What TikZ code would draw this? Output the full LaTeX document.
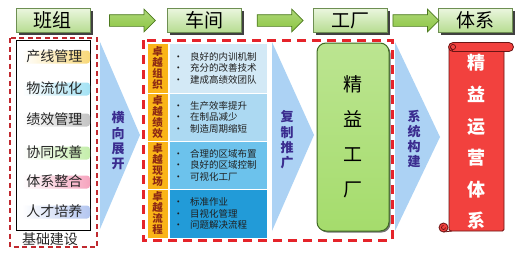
\documentclass[tikz,border=0pt]{standalone}
\usepackage{fontspec}
\setmainfont{Noto Sans CJK SC}
\usetikzlibrary{shapes.arrows,shadows,calc}
\definecolor{hdrtop}{HTML}{EAF6DE}
\definecolor{hdrbot}{HTML}{B6DC90}
\definecolor{hdrline}{HTML}{6E8F52}
\definecolor{arrgreen}{HTML}{8CC641}
\definecolor{arrline}{HTML}{4D7A1F}
\definecolor{triblue}{HTML}{ACD2F4}
\definecolor{orangec}{HTML}{FAB418}
\definecolor{rowa}{HTML}{D3E9F6}
\definecolor{rowb}{HTML}{ACD9F2}
\definecolor{rowc}{HTML}{6CC2EC}
\definecolor{rowd}{HTML}{229BD8}
\definecolor{dashdark}{HTML}{C0292F}
\definecolor{dashbright}{HTML}{E5232A}
\definecolor{purpletext}{HTML}{3A2C8F}
\definecolor{scrollred}{HTML}{F2413E}
\definecolor{scrolldark}{HTML}{6B1414}
\definecolor{facgreen}{HTML}{A5DC6C}
\definecolor{facline}{HTML}{3F6A23}
\definecolor{orangetext}{HTML}{8C2814}
\definecolor{bandA}{HTML}{F8D878}
\definecolor{bandB}{HTML}{A4E2F4}
\definecolor{bandC}{HTML}{C4C4C4}
\definecolor{bandD}{HTML}{C4EEAA}
\definecolor{bandE}{HTML}{F6A4BE}
\definecolor{bandF}{HTML}{B4C6F0}
\begin{document}
\begin{tikzpicture}[x=1pt,y=-1pt,
  hdr/.style={draw=hdrline, line width=0.6pt, top color=hdrtop, bottom color=hdrbot,
    minimum width=74pt, minimum height=24pt, inner sep=0pt,
    font=\fontsize{19}{19}\selectfont,
    drop shadow={shadow xshift=2.5pt, shadow yshift=-2.5pt, fill=black!75, opacity=1}},
  bigarrow/.style={single arrow, draw=arrline, line width=0.7pt, top color=arrgreen!70!white, bottom color=arrgreen,
    minimum height=46pt, inner xsep=0pt, inner ysep=5.5pt, single arrow head extend=5.5pt},
  tri/.style={fill=triblue},
  vtext/.style={align=center, inner sep=0pt, text=purpletext, font=\bfseries\fontsize{13}{15.3}\selectfont},
  band/.style={left color=white, right color=#1, rounded corners=3pt, minimum width=68pt, minimum height=13pt, inner sep=0pt},
  itemtext/.style={inner sep=0pt, text=black!85, font=\fontsize{14}{14}\selectfont},
  ocell/.style={fill=orangec, draw=white, line width=1pt, minimum width=21pt, inner sep=0pt, align=center,
    text=orangetext, font=\bfseries\fontsize{10.5}{11}\selectfont},
  bcell/.style={fill=#1, draw=white, line width=1pt, minimum width=98pt, inner sep=0pt},
  btext/.style={align=left, inner sep=0pt, text=black!88, font=\fontsize{9.5}{11.5}\selectfont},
  smalldash/.style={draw=dashdark, line width=1.4pt, dash pattern=on 5pt off 3.5pt},
  bigdash/.style={draw=dashbright, line width=3pt, dash pattern=on 9pt off 6pt}
]
\useasboundingbox[fill=white] (0,0) rectangle (520,258);

% chevron triangles
\fill[tri] (100,42) -- (140,135) -- (100,229) -- cycle;
\fill[tri] (272,42) -- (314,135) -- (272,231) -- cycle;
\fill[tri] (395,42) -- (440,137) -- (395,231) -- cycle;

% headers
\node[hdr] (h1) at (53,20.5) {班组};
\node[hdr] (h2) at (204,20.5) {车间};
\node[hdr] (h3) at (350.5,20.5) {工厂};
\node[hdr] (h4) at (475.5,20.5) {体系};
\node[bigarrow] (a1) at ($(h1.east)!0.5!(h2.west)+(1,0)$) {};
\node[bigarrow] (a2) at ($(h2.east)!0.5!(h3.west)$) {};
\node[bigarrow] (a3) at ($(h3.east)!0.5!(h4.west)$) {};

% left column
\draw[black, line width=0.8pt] (16,40) rectangle (90.5,230);
\node[band=bandA] (b1) at (56,57) {};
\node[band=bandB] (b2) at (56,89) {};
\node[band=bandC] (b3) at (56,120) {};
\node[band=bandD] (b4) at (56,153) {};
\node[band=bandE] (b5) at (56,182) {};
\node[band=bandF] (b6) at (56,212) {};
\node[itemtext] (l1) at (54.5,56.5) {产线管理};
\node[itemtext] (l2) at (54.5,88.5) {物流优化};
\node[itemtext] (l3) at (54.5,119.5) {绩效管理};
\node[itemtext] (l4) at (54.5,152.5) {协同改善};
\node[itemtext] (l5) at (54.5,181.5) {体系整合};
\node[itemtext] (l6) at (54.5,211.5) {人才培养};
\node[itemtext] (l7) at (50,239) {基础建设};
\draw[smalldash] (10,38) rectangle (97,247);

\node[vtext] (v1) at (118,141) {横\\向\\展\\开};

% table
\node[ocell, minimum height=50pt] (o1) at (157.5,68) {卓\\越\\组\\织};
\node[ocell, minimum height=48pt] (o2) at (157.5,117) {卓\\越\\绩\\效};
\node[ocell, minimum height=48pt] (o3) at (157.5,165) {卓\\越\\现\\场};
\node[ocell, minimum height=49pt] (o4) at (157.5,213.5) {卓\\越\\流\\程};
\node[bcell=rowa, minimum height=50pt, anchor=west] (c1) at (o1.east) {};
\node[bcell=rowb, minimum height=48pt, anchor=west] (c2) at (o2.east) {};
\node[bcell=rowc, minimum height=48pt, anchor=west] (c3) at (o3.east) {};
\node[bcell=rowd, minimum height=49pt, anchor=west] (c4) at (o4.east) {};
\node[btext, anchor=west] (t1) at ($(c1.west)+(5,0)$) {•\hspace{7pt}良好的内训机制\\•\hspace{7pt}充分的改善技术\\•\hspace{7pt}建成高绩效团队};
\node[btext, anchor=west] (t2) at ($(c2.west)+(5,0)$) {•\hspace{7pt}生产效率提升\\•\hspace{7pt}在制品减少\\•\hspace{7pt}制造周期缩短};
\node[btext, anchor=west] (t3) at ($(c3.west)+(5,0)$) {•\hspace{7pt}合理的区域布置\\•\hspace{7pt}良好的区域控制\\•\hspace{7pt}可视化工厂};
\node[btext, anchor=west] (t4) at ($(c4.west)+(5,0)$) {•\hspace{7pt}标准作业\\•\hspace{7pt}目视化管理\\•\hspace{7pt}问题解决流程};

\node[vtext] (v2) at (287,140) {复\\制\\推\\广};

% factory box
\node[draw=facline, line width=1pt, top color=facgreen!75!white, bottom color=facgreen, rounded corners=9pt,
  minimum width=72pt, minimum height=188pt, inner sep=0pt, align=center,
  font=\fontsize{19}{35}\selectfont,
  drop shadow={shadow xshift=1.5pt, shadow yshift=-1.5pt, fill=black!55, opacity=1}] (fac) at (353,137) {精\\益\\工\\厂};

\draw[bigdash] (143,40) rectangle (392,240);

\node[vtext] (v3) at (414,139) {系\\统\\构\\建};

% scroll
\filldraw[fill=scrollred, draw=scrolldark, line width=0.8pt, rounded corners=1.5pt] (449,47) rectangle (504,231);
\filldraw[fill=scrollred, draw=scrolldark, line width=0.8pt] (453,42.5) -- (509,42.5) arc(-90:90:4.5) -- (453,51.5) arc(90:270:4.5) -- cycle;
\draw[scrolldark, line width=0.7pt] (453,47) circle (2.6);
\draw[scrolldark, line width=0.7pt] (450.4,47) -- (453,51.5);
\filldraw[fill=scrollred, draw=scrolldark, line width=0.8pt] (443.5,227.5) circle (4.5);
\draw[scrolldark, line width=0.7pt] (445.5,227.5) arc(0:270:2);
\draw[scrolldark, line width=0.8pt] (443.5,232) -- (452,231);
\node[align=center, inner sep=0pt, text=white, font=\bfseries\fontsize{18}{31.6}\selectfont] (sys) at (476,142) {精\\益\\运\\营\\体\\系};
\end{tikzpicture}
\end{document}
